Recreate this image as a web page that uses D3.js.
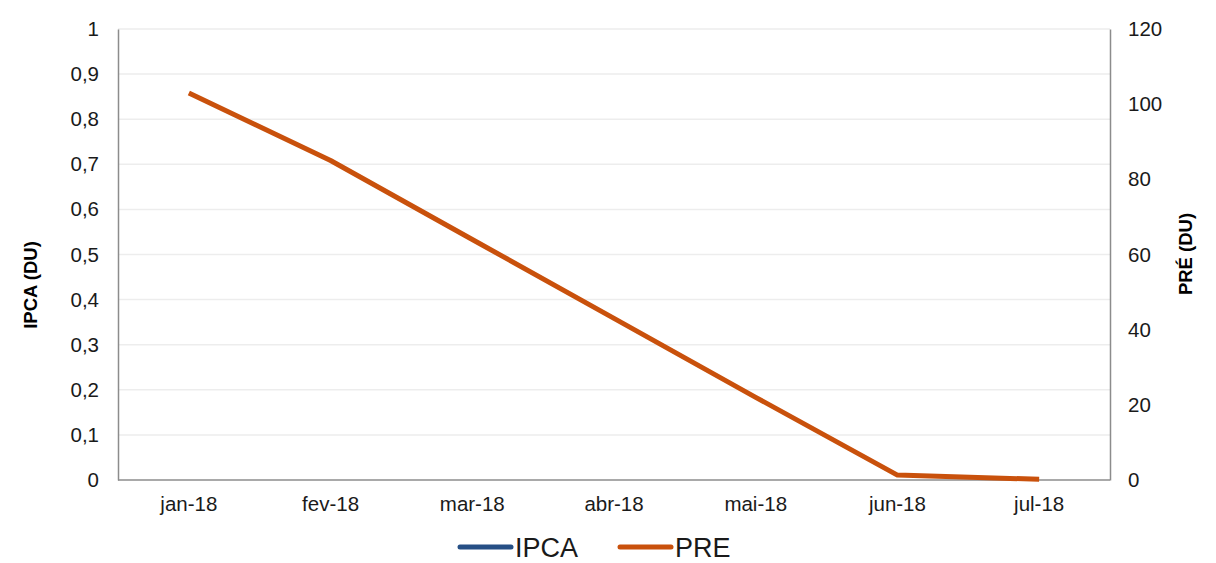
<!DOCTYPE html>
<html>
<head>
<meta charset="utf-8">
<style>
    body { margin: 0; background: #fff; }
    svg { font-family: 'Liberation Sans', Arial, sans-serif; }
</style>
</head>
<body>
<svg width="1216" height="563"></svg>
<script src="https://d3js.org/d3.v7.min.js"></script>
<script>
    // data (IPCA shows no visible values)
    let months = ["jan-18", "fev-18", "mar-18", "abr-18", "mai-18", "jun-18", "jul-18"]
    let ipca = [null, null, null, null, null, null, null]
    let pre = [103, 85, 64, 43, 22, 1.3, 0.2]
    let leftTicks = [0, 0.1, 0.2, 0.3, 0.4, 0.5, 0.6, 0.7, 0.8, 0.9, 1]
    let rightTicks = [0, 20, 40, 60, 80, 100, 120]

    let svg = d3.select("svg")
    let plotLeft = 118, plotRight = 1110, plotTop = 29, plotBottom = 480

    let x = d3.scaleBand().domain(months).range([plotLeft, plotRight])
    let yL = d3.scaleLinear().domain([0, 1]).range([plotBottom, plotTop])
    let yR = d3.scaleLinear().domain([0, 120]).range([plotBottom, plotTop])

    // gridlines
    svg.selectAll(".grid")
        .data(leftTicks.slice(1))
        .join("line")
        .attr("x1", plotLeft).attr("x2", plotRight)
        .attr("y1", d => yL(d)).attr("y2", d => yL(d))
        .style("stroke", "#ededed")
        .style("stroke-width", 1.5)

    let fmt = d => String(d).replace(".", ",")

    let gL = svg.append("g")
        .attr("transform", `translate(${plotLeft},0)`)
        .call(d3.axisLeft(yL).tickValues(leftTicks).tickFormat(fmt).tickSize(0).tickPadding(19))
    let gR = svg.append("g")
        .attr("transform", `translate(${plotRight},0)`)
        .call(d3.axisRight(yR).tickValues(rightTicks).tickSize(0).tickPadding(18))
    let gX = svg.append("g")
        .attr("transform", `translate(0,${plotBottom})`)
        .call(d3.axisBottom(x).tickSize(0).tickPadding(16))

    svg.selectAll(".domain").style("stroke", "#8c8c8c").style("stroke-width", 1.5)
    gX.select(".domain").attr("d", `M${plotLeft},0H${plotRight}`)
    svg.selectAll(".tick text")
        .style("font-size", "20.5px")
        .style("fill", "#1a1a1a")
        .style("font-family", "'Liberation Sans', Arial, sans-serif")

    // axis titles
    svg.append("text")
        .attr("transform", "translate(37,285) rotate(-90)")
        .attr("text-anchor", "middle")
        .style("font-size", "18.5px").style("font-weight", "bold")
        .text("IPCA (DU)")
    svg.append("text")
        .attr("transform", "translate(1192,254) rotate(-90)")
        .attr("text-anchor", "middle")
        .style("font-size", "18.5px").style("font-weight", "bold")
        .text("PRÉ (DU)")

    let cx = d => x(d) + x.bandwidth() / 2

    let lineL = d3.line().defined(d => d != null).x((d, i) => cx(months[i])).y(d => yL(d))
    let lineR = d3.line().x((d, i) => cx(months[i])).y(d => yR(d))

    svg.append("path")
        .attr("d", lineL(ipca))
        .style("fill", "none")
        .style("stroke", "#264f85")
        .style("stroke-width", 5)

    svg.append("path")
        .attr("d", lineR(pre))
        .style("fill", "none")
        .style("stroke", "#c9510c")
        .style("stroke-width", 5)
        .style("stroke-linejoin", "round")

    // legend
    let legend = [
        { name: "IPCA", color: "#264f85", x: 458 },
        { name: "PRE", color: "#c9510c", x: 618 }
    ]
    let lg = svg.selectAll(".legend")
        .data(legend)
        .join("g")
        .attr("transform", d => `translate(${d.x},547)`)
    lg.append("line")
        .attr("x1", 2).attr("x2", 53)
        .style("stroke", d => d.color)
        .style("stroke-width", 5)
        .style("stroke-linecap", "round")
    lg.append("text")
        .attr("x", 57).attr("y", 10)
        .style("font-size", "27px")
        .style("fill", "#1a1a1a")
        .text(d => d.name)
</script>
</body>
</html>
